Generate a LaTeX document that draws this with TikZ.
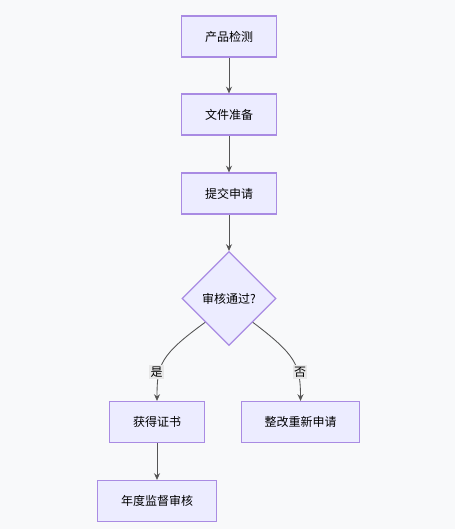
\documentclass[tikz,border=0pt]{standalone}
\usepackage{fontspec}
\setmainfont{Noto Sans CJK SC}
\usetikzlibrary{shapes.geometric,arrows.meta}
\definecolor{boxfill}{HTML}{ECECFF}
\definecolor{boxline}{HTML}{A98BE3}
\definecolor{edgeline}{HTML}{555555}
\definecolor{paper}{HTML}{F8F9FA}
\definecolor{labelbg}{HTML}{E8E8E8}
\begin{document}
\begin{tikzpicture}[x=0.75pt,y=-0.75pt,
  stepbox/.style={draw=boxline,fill=boxfill,line width=0.9pt,minimum height=30.75pt,
    inner xsep=17.5pt,font=\fontsize{9}{11}\selectfont},
  checkbox/.style={diamond,aspect=1,draw=boxline,fill=boxfill,line width=0.9pt,
    minimum size=70.5pt,inner sep=0pt,font=\fontsize{9}{11}\selectfont},
  flow/.style={draw=edgeline,line width=0.65pt,-{Stealth[length=5pt,width=4.5pt]}},
  answer/.style={fill=labelbg,inner sep=1pt,font=\fontsize{9}{11}\selectfont}]
 \fill[paper] (0,0) rectangle (455,529);
 \useasboundingbox (0,0) rectangle (455,529);
 % main line
 \node[stepbox] (test) at (229,36.5) {产品检测};
 \node[stepbox] (docs) at (229,114.5) {文件准备};
 \node[stepbox] (apply) at (229,193.5) {提交申请};
 \node[checkbox] (check) at (229,298.5) {审核通过?};
 \node[stepbox] (cert) at (157,422) {获得证书};
 \node[stepbox] (redo) at (300.5,422) {整改重新申请};
 \node[stepbox] (audit) at (157,501) {年度监督审核};
 \draw[flow] (test) -- (docs);
 \draw[flow] (docs) -- (apply);
 \draw[flow] (apply) -- (check);
 \draw[flow] (check.south west) .. controls (160,355) and (157,365) .. (cert.north);
 \draw[flow] (check.south east) .. controls (296,355) and (300.5,365) .. (redo.north);
 \draw[flow] (cert) -- (audit);
 \node[answer] (yes) at (156.5,372) {是};
 \node[answer] (no) at (300,372) {否};
\end{tikzpicture}
\end{document}
